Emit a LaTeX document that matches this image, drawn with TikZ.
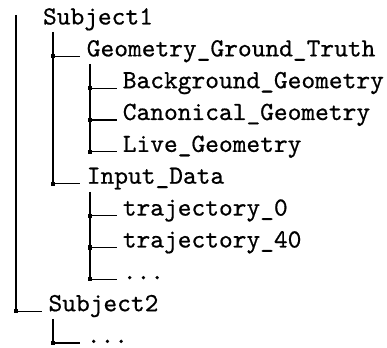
\documentclass[tikz,border=0pt]{standalone}
\usepackage{fontspec}
\newfontfamily\treefont[FakeBold=0.6]{Latin Modern Mono}
\begin{document}
\begin{tikzpicture}[x=0.3821pt,y=-0.3821pt,
  lbl/.style={anchor=base west, inner sep=0pt, font=\treefont\fontsize{10}{12}\selectfont},
  sq/.style={fill=black, inner sep=0pt, minimum size=1.6pt, draw=none},
  conn/.style={draw=black, line width=0.45pt}]
\useasboundingbox (0,0) rectangle (387,348);
% root
\node[lbl] (s1) at (42.5,24.5) {Subject1};
\coordinate (t0) at (16,15);
\node[sq] (q9) at (16,311.2) {};
\node[lbl] (s2) at (48,311.2) {Subject2};
% level 1 under Subject1
\coordinate (t1) at (53,32);
\node[sq] (q1) at (53,56.4) {};
\node[lbl] (g) at (86.3,56.4) {Geometry\_Ground\_Truth};
\node[sq] (q5) at (53,183.7) {};
\node[lbl] (inp) at (86.3,183.7) {Input\_Data};
% level 2 under Geometry
\coordinate (t2) at (90,64);
\node[sq] (q2) at (90,88.2) {};
\node[lbl] (bg) at (122.3,88.2) {Background\_Geometry};
\node[sq] (q3) at (90,120) {};
\node[lbl] (cg) at (122.3,120) {Canonical\_Geometry};
\node[sq] (q4) at (90,151.9) {};
\node[lbl] (lg) at (122.3,151.9) {Live\_Geometry};
% level 2 under Input_Data
\coordinate (t3) at (90,192);
\node[sq] (q6) at (90,215.6) {};
\node[lbl] (tr0) at (122.3,215.6) {trajectory\_0};
\node[sq] (q7) at (90,247.5) {};
\node[lbl] (tr40) at (122.3,247.5) {trajectory\_40};
\node[sq] (q8) at (90,279.3) {};
\node[lbl] (dd1) at (122.3,279.3) {...};
% level 1 under Subject2
\coordinate (t4) at (53,319);
\node[sq] (q10) at (53,343) {};
\node[lbl] (dd2) at (86.3,343) {...};
% vertical connectors
\draw[conn] (t0) -- (q9.center);
\draw[conn] (t1) -- (q5.center);
\draw[conn] (t2) -- (q4.center);
\draw[conn] (t3) -- (q8.center);
\draw[conn] (t4) -- (q10.center);
% horizontal connectors
\draw[conn] (q9.center) -- ++(26,0);
\draw[conn] (q1.center) -- ++(27,0);
\draw[conn] (q5.center) -- ++(27,0);
\draw[conn] (q10.center) -- ++(27,0);
\draw[conn] (q2.center) -- ++(27,0);
\draw[conn] (q3.center) -- ++(27,0);
\draw[conn] (q4.center) -- ++(27,0);
\draw[conn] (q6.center) -- ++(27,0);
\draw[conn] (q7.center) -- ++(27,0);
\draw[conn] (q8.center) -- ++(27,0);
\end{tikzpicture}
\end{document}
